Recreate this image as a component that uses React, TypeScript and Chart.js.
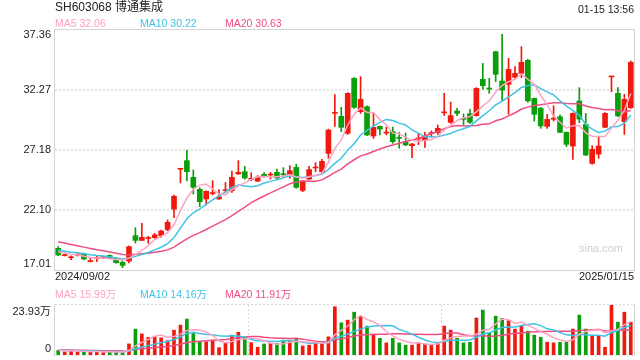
import React, { useEffect, useRef } from "react";
import { Chart, registerables } from "chart.js";

Chart.register(...registerables);

// ---------- data ----------
const dates = [
  "2024/09/02", "2024/09/03", "2024/09/04", "2024/09/05", "2024/09/06", "2024/09/09", "2024/09/10", "2024/09/11", "2024/09/12", "2024/09/13",
  "2024/09/18", "2024/09/19", "2024/09/20", "2024/09/23", "2024/09/24", "2024/09/25", "2024/09/26", "2024/09/27", "2024/09/30",
  "2024/10/08", "2024/10/09", "2024/10/10", "2024/10/11", "2024/10/14", "2024/10/15", "2024/10/16", "2024/10/17", "2024/10/18",
  "2024/10/21", "2024/10/22", "2024/10/23", "2024/10/24", "2024/10/25", "2024/10/28", "2024/10/29", "2024/10/30", "2024/10/31",
  "2024/11/01", "2024/11/04", "2024/11/05", "2024/11/06", "2024/11/07", "2024/11/08", "2024/11/11", "2024/11/12", "2024/11/13",
  "2024/11/14", "2024/11/15", "2024/11/18", "2024/11/19", "2024/11/20", "2024/11/21", "2024/11/22", "2024/11/25", "2024/11/26",
  "2024/11/27", "2024/11/28", "2024/11/29",
  "2024/12/02", "2024/12/03", "2024/12/04", "2024/12/05", "2024/12/06", "2024/12/09", "2024/12/10", "2024/12/11", "2024/12/12",
  "2024/12/13", "2024/12/16", "2024/12/17", "2024/12/18", "2024/12/19", "2024/12/20", "2024/12/23", "2024/12/24", "2024/12/25",
  "2024/12/26", "2024/12/27", "2024/12/30", "2024/12/31",
  "2025/01/02", "2025/01/03", "2025/01/06", "2025/01/07", "2025/01/08", "2025/01/09", "2025/01/10", "2025/01/13", "2025/01/14", "2025/01/15",
];

const opens = [
  18.85, 18.22, 18.05, 18.26, 18.39, 17.72, 18.0, 18.05, 18.25, 18.0,
  17.66, 17.77, 19.92, 19.52, 19.68, 19.75, 19.92, 20.43, 22.18, 25.55,
  26.28, 24.87, 23.85, 23.03, 23.49, 23.03, 23.73, 23.74, 25.15, 25.35,
  24.7, 24.55, 25.12, 25.06, 25.29, 25.12, 25.12, 25.71, 23.76, 24.72,
  25.66, 25.35, 26.9, 30.29, 30.04, 28.6, 33.26, 30.43, 30.86, 28.37,
  29.19, 28.62, 28.74, 28.2, 27.86, 27.55, 28.12, 28.06, 28.57, 28.66,
  30.33, 29.53, 30.49, 29.8, 30.26, 30.1, 33.18, 32.38, 35.52, 33.03,
  32.75, 33.35, 33.68, 34.79, 31.56, 30.72, 29.19, 29.79, 30.01, 28.68,
  27.52, 31.34, 29.36, 26.05, 26.84, 29.11, 33.38, 31.99, 29.59, 30.77,
];
const highs = [
  18.99, 18.38, 18.22, 18.42, 18.45, 18.05, 18.17, 18.15, 18.3, 18.05,
  17.8, 19.07, 20.6, 20.97, 19.86, 20.12, 20.4, 21.25, 23.37, 25.63,
  27.16, 25.49, 23.99, 23.72, 24.58, 23.82, 24.44, 25.4, 26.28, 25.8,
  25.26, 25.01, 25.26, 25.29, 25.57, 25.69, 25.86, 25.97, 24.6, 25.8,
  26.11, 26.39, 28.96, 31.88, 30.8, 32.05, 33.32, 33.4, 30.94, 30.35,
  29.22, 29.13, 29.13, 28.68, 28.63, 27.75, 28.6, 28.68, 28.8, 29.3,
  31.99, 31.25, 30.72, 30.24, 30.63, 32.47, 34.53, 33.26, 35.55, 36.99,
  34.96, 34.25, 35.95, 34.87, 31.6, 30.8, 30.21, 30.94, 30.15, 28.72,
  30.33, 32.47, 30.29, 27.55, 28.31, 30.35, 33.42, 32.47, 31.9, 34.73,
];
const lows = [
  18.22, 18.2, 17.88, 18.2, 17.88, 17.7, 17.72, 17.98, 17.98, 17.58,
  17.21, 17.6, 19.3, 19.5, 19.27, 19.69, 19.78, 20.34, 21.45, 24.39,
  24.56, 23.45, 22.38, 22.52, 23.37, 23.0, 23.59, 23.59, 25.12, 24.72,
  24.58, 24.5, 24.87, 24.72, 24.72, 24.87, 24.78, 23.93, 23.65, 24.64,
  25.35, 25.29, 26.48, 29.19, 28.74, 28.51, 30.72, 30.29, 28.4, 28.17,
  28.46, 28.46, 27.75, 27.33, 27.55, 26.53, 27.64, 27.41, 28.29, 28.51,
  30.1, 29.44, 30.1, 29.3, 29.44, 30.05, 32.33, 31.99, 32.98, 31.34,
  30.21, 33.26, 33.32, 31.23, 29.64, 29.02, 29.02, 29.64, 28.65, 27.47,
  26.39, 29.5, 26.7, 25.97, 26.48, 29.08, 32.13, 30.01, 28.51, 30.72,
];
const closes = [
  18.28, 18.27, 18.08, 18.3, 17.94, 17.75, 18.05, 18.08, 18.0, 17.63,
  17.4, 18.99, 19.52, 19.78, 19.72, 19.98, 20.32, 21.05, 23.26, 25.61,
  25.35, 24.02, 22.8, 23.68, 23.53, 23.22, 23.78, 24.87, 25.29, 24.81,
  24.75, 24.89, 25.0, 25.1, 24.81, 25.09, 25.43, 24.02, 24.56, 25.52,
  25.69, 26.22, 28.88, 30.32, 29.11, 31.99, 30.8, 31.48, 28.46, 29.11,
  28.96, 28.66, 27.89, 28.17, 27.61, 27.69, 28.15, 28.29, 28.62, 29.02,
  30.37, 30.1, 30.29, 29.78, 29.53, 32.41, 32.64, 32.35, 33.6, 32.27,
  34.02, 33.68, 34.62, 31.34, 30.21, 29.22, 29.78, 29.83, 28.68, 27.66,
  30.29, 29.81, 26.76, 27.24, 27.52, 30.29, 33.4, 30.07, 31.48, 34.62,
];
// volume in 万 (10k shares)
const volumes = [
  2.25, 1.46, 2.1, 1.46, 1.78, 1.62, 1.62, 1.14, 1.62, 1.3,
  1.3, 5.3, 12.4, 10.1, 8.4, 8.7, 8.2, 6.9, 11.9, 14.3,
  17.2, 10.3, 6.4, 6.3, 7.1, 3.5, 5.8, 9.5, 10.9, 8.5,
  5.9, 3.7, 5.3, 5.5, 5.5, 7.1, 7.1, 7.7, 4.3, 4.7,
  6.3, 5.5, 8.7, 23.1, 15.4, 16.7, 20.5, 18.6, 13.8, 10.0,
  8.0, 5.8, 8.0, 5.8, 4.7, 4.7, 5.8, 5.2, 4.8, 5.8,
  13.8, 11.9, 8.0, 5.8, 6.1, 17.7, 21.5, 10.6, 18.6, 17.5,
  16.4, 12.4, 14.1, 11.4, 9.5, 8.5, 6.1, 5.8, 6.1, 6.1,
  12.4, 19.1, 12.4, 9.0, 9.0, 3.7, 23.93, 15.7, 20.5, 15.7,
];
// estimated sessions before the window (needed for the moving averages)
const priorCloses = [
  20.6, 20.5, 20.4, 20.3, 20.2, 20.0, 19.9, 19.9, 19.8, 19.6,
  19.2, 19.0, 18.8, 18.7, 18.55, 18.7, 18.6, 18.6, 18.55,
];
const priorVolumes = [
  2.6, 2.3, 2.9, 2.5, 2.2, 2.7, 2.4, 2.3, 2.6, 2.5,
  2.4, 2.2, 2.6, 2.3, 2.1, 2.5, 2.2, 2.4, 2.1,
];

const priceTicks = [37.36, 32.27, 27.18, 22.1, 17.01];
const volumeTicks = [23.93, 0];
const maPeriods = [5, 10, 20];
const priceMaLegend = ["MA5 32.06", "MA10 30.22", "MA20 30.63"];
const volumeMaLegend = ["MA5 15.99万", "MA10 14.16万", "MA20 11.91万"];
const titleText = "SH603068 博通集成";
const timeText = "01-15 13:56";
const watermark = "sina.com";

// ---------- styles ----------
const RED = "#f0190d";
const GREEN = "#0a9e0a";
const MA_COLORS = ["#ffa3c3", "#3ec3e4", "#ee4f82"];
const FONT = "'Liberation Sans', Arial, 'Noto Sans CJK SC', sans-serif";
const TEXT = "#222";

function movingAverage(prior: number[], values: number[], n: number) {
  const all = prior.concat(values);
  const off = prior.length;
  return values.map((_, i) => {
    const end = off + i + 1;
    const start = end - n;
    if (start < 0) return null;
    let s = 0;
    for (let k = start; k < end; k++) s += all[k];
    return s / n;
  });
}

const candleColors = closes.map((c, i) => (c >= opens[i] ? RED : GREEN));

const mainPlugin = {
  id: "mainDecor",
  beforeDatasetsDraw(chart: any) {
    const { ctx, chartArea: a, scales } = chart;
    ctx.save();
    ctx.font = `11px ${FONT}`;
    ctx.fillStyle = "#cfcfcf";
    ctx.textAlign = "right";
    ctx.textBaseline = "middle";
    ctx.fillText(watermark, a.right - 11, a.bottom - 21);
    ctx.strokeStyle = "#e3e3e3";
    ctx.lineWidth = 2;
    ctx.setLineDash([2, 2]);
    priceTicks.slice(1, -1).forEach((v) => {
      const y = Math.round(scales.y.getPixelForValue(v));
      ctx.beginPath();
      ctx.moveTo(a.left, y);
      ctx.lineTo(a.right, y);
      ctx.stroke();
    });
    ctx.restore();
  },
  afterDraw(chart: any) {
    const { ctx, chartArea: a, scales } = chart;
    ctx.save();
    ctx.strokeStyle = "#d4d4d4";
    ctx.lineWidth = 1;
    ctx.strokeRect(a.left - 0.5, a.top - 0.5, a.right - a.left + 1, a.bottom - a.top + 1);

    ctx.fillStyle = TEXT;
    ctx.font = `11px ${FONT}`;
    ctx.textAlign = "right";
    ctx.textBaseline = "middle";
    priceTicks.forEach((v, k) => {
      let y = scales.y.getPixelForValue(v);
      if (k === 0) y += 5;
      if (k === priceTicks.length - 1) y -= 6;
      ctx.fillText(v.toFixed(2), a.left - 4, y);
    });

    ctx.textAlign = "left";
    ctx.fillText(dates[0], a.left, a.bottom + 7);
    ctx.textAlign = "right";
    ctx.fillText(dates[dates.length - 1], a.right, a.bottom + 7);

    ctx.font = `12px ${FONT}`;
    ctx.textAlign = "left";
    ctx.fillText(titleText, a.left, 7.5);

    ctx.font = `10.5px ${FONT}`;
    ctx.textAlign = "right";
    ctx.fillText(timeText, a.right, 10);

    ctx.textAlign = "left";
    priceMaLegend.forEach((t, k) => {
      ctx.fillStyle = MA_COLORS[k];
      ctx.fillText(t, a.left + 85 * k, 24);
    });
    ctx.restore();
  },
};

const volPlugin = {
  id: "volDecor",
  beforeDatasetsDraw(chart: any) {
    const { ctx, chartArea: a, scales } = chart;
    ctx.save();
    ctx.strokeStyle = "#d8d8d8";
    ctx.lineWidth = 1;
    ctx.setLineDash([2, 2]);
    [a.top - 0.5, a.bottom + 0.5].forEach((y) => {
      ctx.beginPath();
      ctx.moveTo(a.left, y);
      ctx.lineTo(a.right, y);
      ctx.stroke();
    });
    [30, 60].forEach((i) => {
      const x = Math.round((scales.x.getPixelForValue(i - 1) + scales.x.getPixelForValue(i)) / 2) + 0.5;
      ctx.beginPath();
      ctx.moveTo(x, a.top);
      ctx.lineTo(x, a.bottom);
      ctx.stroke();
    });
    ctx.restore();
  },
  afterDraw(chart: any) {
    const { ctx, chartArea: a, scales } = chart;
    ctx.save();
    ctx.strokeStyle = "#d4d4d4";
    ctx.lineWidth = 1;
    ctx.beginPath();
    ctx.moveTo(a.left - 0.5, a.top - 1);
    ctx.lineTo(a.left - 0.5, a.bottom + 1);
    ctx.moveTo(a.right + 0.5, a.top - 1);
    ctx.lineTo(a.right + 0.5, a.bottom + 1);
    ctx.stroke();

    ctx.fillStyle = TEXT;
    ctx.font = `11px ${FONT}`;
    ctx.textAlign = "right";
    ctx.textBaseline = "middle";
    ctx.fillText(volumeTicks[0].toFixed(2) + "万", a.left - 4, scales.y.getPixelForValue(volumeTicks[0]) + 7);
    ctx.fillText(String(volumeTicks[1]), a.left - 4, scales.y.getPixelForValue(volumeTicks[1]) - 6.5);

    ctx.font = `10.5px ${FONT}`;
    ctx.textAlign = "left";
    volumeMaLegend.forEach((t, k) => {
      ctx.fillStyle = MA_COLORS[k];
      ctx.fillText(t, a.left + 85 * k, 295.5);
    });
    ctx.restore();
  },
};

export default function App() {
  const mainRef = useRef<HTMLCanvasElement>(null);
  const volRef = useRef<HTMLCanvasElement>(null);

  useEffect(() => {
    const priceMas = maPeriods.map((n) => movingAverage(priorCloses, closes, n));
    const volMas = maPeriods.map((n) => movingAverage(priorVolumes, volumes, n));

    const main = new Chart(mainRef.current!, {
      type: "bar",
      data: {
        labels: dates,
        datasets: [
          {
            type: "bar",
            data: lows.map((l, i) => [l, highs[i]]) as any,
            backgroundColor: candleColors,
            barThickness: 1,
            grouped: false,
            minBarLength: 1,
            order: 3,
          },
          {
            type: "bar",
            data: opens.map((o, i) => [o, closes[i]]) as any,
            backgroundColor: candleColors,
            barThickness: 5,
            grouped: false,
            minBarLength: 1,
            order: 2,
          },
          ...priceMas.map((d, k) => ({
            type: "line" as const,
            data: d as any,
            borderColor: MA_COLORS[k],
            borderWidth: 1.5,
            pointRadius: 0,
            fill: false,
            tension: 0,
            order: 1,
          })),
        ],
      },
      options: {
        responsive: false,
        animation: false,
        devicePixelRatio: 1,
        layout: { padding: { left: 55, right: 6, top: 30, bottom: 90 } },
        plugins: { legend: { display: false }, tooltip: { enabled: false } },
        events: [],
        scales: {
          x: { display: false, offset: true },
          y: { display: false, min: priceTicks[priceTicks.length - 1], max: priceTicks[0] },
        },
      },
      plugins: [mainPlugin],
    });

    const vol = new Chart(volRef.current!, {
      type: "bar",
      data: {
        labels: dates,
        datasets: [
          {
            type: "bar",
            data: volumes,
            backgroundColor: candleColors,
            barThickness: 3,
            grouped: false,
            order: 2,
          },
          ...volMas.map((d, k) => ({
            type: "line" as const,
            data: d as any,
            borderColor: MA_COLORS[k],
            borderWidth: 1.5,
            pointRadius: 0,
            fill: false,
            tension: 0,
            order: 1,
          })),
        ],
      },
      options: {
        responsive: false,
        animation: false,
        devicePixelRatio: 1,
        layout: { padding: { left: 55, right: 6, top: 305, bottom: 5 } },
        plugins: { legend: { display: false }, tooltip: { enabled: false } },
        events: [],
        scales: {
          x: { display: false, offset: true },
          y: { display: false, min: volumeTicks[1], max: volumeTicks[0] },
        },
      },
      plugins: [volPlugin],
    });

    return () => {
      main.destroy();
      vol.destroy();
    };
  }, []);

  return (
    <div style={{ position: "fixed", left: 0, top: 0, width: 640, height: 360, background: "#fff" }}>
      <canvas ref={mainRef} width={640} height={360} style={{ position: "absolute", left: 0, top: 0 }} />
      <canvas ref={volRef} width={640} height={360} style={{ position: "absolute", left: 0, top: 0 }} />
    </div>
  );
}
